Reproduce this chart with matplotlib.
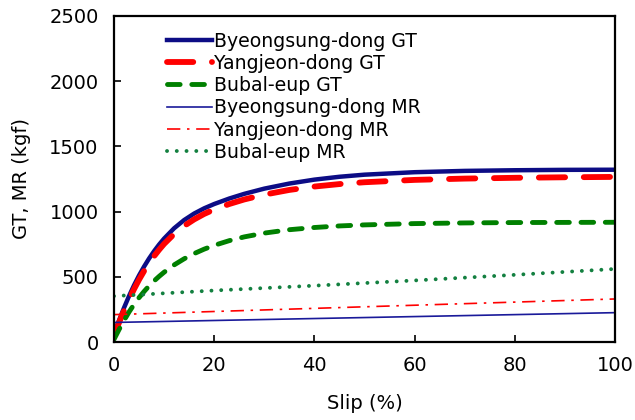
import numpy as np
import matplotlib
matplotlib.use('Agg')
import matplotlib.pyplot as plt

# slip (%) sample points
slip_gt = [0, 1, 2, 3, 4, 5, 6, 7, 8, 9, 10, 12, 14, 16, 18, 20, 23, 26, 30, 35,
           40, 45, 50, 60, 70, 80, 90, 100]
byeongsung_gt = [60, 165, 262, 352, 435, 510, 578, 640, 696, 747, 793, 872, 935, 985, 1025, 1058,
                 1100, 1136, 1176, 1215, 1245, 1267, 1283, 1302, 1312, 1317, 1320, 1321]
yangjeon_gt = [50, 148, 240, 326, 405, 478, 544, 604, 658, 707, 752, 828, 890, 940, 982, 1016,
               1058, 1093, 1130, 1166, 1192, 1211, 1225, 1243, 1253, 1259, 1263, 1266]
bubal_gt = [20, 95, 165, 230, 288, 340, 387, 430, 468, 503, 535, 591, 638, 678, 712, 741,
            777, 806, 835, 861, 878, 890, 898, 908, 913, 916, 917, 918]

slip_mr = [0, 20, 40, 60, 80, 100]
byeongsung_mr = [150, 165, 180, 195, 210, 225]
yangjeon_mr = [210, 234, 258, 282, 306, 330]
bubal_mr = [352, 395, 432, 472, 515, 560]

labels = ['Byeongsung-dong GT', 'Yangjeon-dong GT', 'Bubal-eup GT',
          'Byeongsung-dong MR', 'Yangjeon-dong MR', 'Bubal-eup MR']

plt.rcParams['font.family'] = ['DejaVu Sans']

fig = plt.figure(figsize=(6.35, 4.2), dpi=100)
ax = fig.add_axes([0.1795, 0.1857, 0.789, 0.7763])

ax.plot(slip_gt, byeongsung_gt, color='#0c0c85', lw=3.2, label=labels[0])
ax.plot(slip_gt, yangjeon_gt, color='#ff0000', lw=4.2, dashes=(4.5, 3.2),
        dash_capstyle='round', label=labels[1])
ax.plot(slip_gt, bubal_gt, color='#008000', lw=3.5, dashes=(2.6, 2.4),
        dash_capstyle='round', label=labels[2])
ax.plot(slip_mr, byeongsung_mr, color='#1a1a9a', lw=1.2, label=labels[3])
ax.plot(slip_mr, yangjeon_mr, color='#ff0000', lw=1.2, dashes=(8, 4, 1.5, 4), label=labels[4])
ax.plot(slip_mr, bubal_mr, color='#138040', lw=2.8, dashes=(0.01, 2.5),
        dash_capstyle='round', label=labels[5])

ax.set_xlim(0, 100)
ax.set_ylim(0, 2500)
ax.set_xticks([0, 20, 40, 60, 80, 100])
ax.set_yticks([0, 500, 1000, 1500, 2000, 2500])
ax.tick_params(direction='in', length=5, width=1.2, labelsize=14)
ax.tick_params(axis='x', pad=10)
ax.tick_params(axis='y', pad=11)
for s in ax.spines.values():
    s.set_linewidth(1.6)

ax.set_xlabel('Slip (%)', fontsize=14, labelpad=14)
ax.set_ylabel('GT, MR (kgf)', fontsize=14, labelpad=13)

ax.legend(loc='upper left', bbox_to_anchor=(0.09, 0.975), frameon=False,
          fontsize=13.6, handlelength=2.4, handletextpad=0.1,
          labelspacing=0.17, borderaxespad=0)

fig.savefig('out.png', dpi=100)
